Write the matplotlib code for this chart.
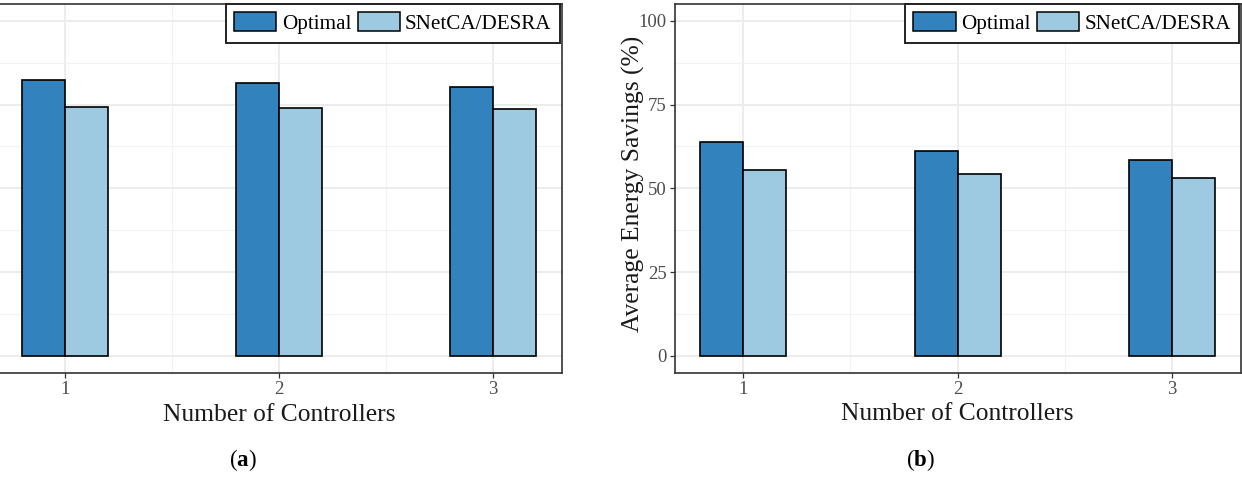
import matplotlib
matplotlib.use("Agg")
import matplotlib.pyplot as plt
import numpy as np
from matplotlib.ticker import FixedLocator
from matplotlib.patches import Patch

# ---- data ----
controllers = [1, 2, 3]
series_names = ["Optimal", "SNetCA/DESRA"]
panel_a_optimal = [82.3, 81.3, 80.2]
panel_a_snetca = [74.4, 74.0, 73.6]
panel_b_optimal = [63.8, 61.0, 58.5]
panel_b_snetca = [55.4, 54.3, 53.0]
y_ticks = [0, 25, 50, 75, 100]
x_label = "Number of Controllers"
y_label_b = "Average Energy Savings (%)"
captions = ["a", "b"]

colors = ["#3182BD", "#9ECAE1"]

plt.rcParams["font.family"] = ["Liberation Serif", "DejaVu Serif"]
plt.rcParams["mathtext.fontset"] = "custom"
plt.rcParams["mathtext.rm"] = "Liberation Serif"
plt.rcParams["mathtext.bf"] = "Liberation Serif:bold"

W, H = 1242, 483
fig = plt.figure(figsize=(W / 100, H / 100), dpi=100)


def fx(px):
    return px / W


def fy(py):
    return 1 - py / H


def make_panel(left_px, right_px, opt, sn, show_y):
    top_px, bot_px = 4.0, 372.7
    ax = fig.add_axes([fx(left_px), fy(bot_px), fx(right_px - left_px), (bot_px - top_px) / H])
    x = np.array(controllers, dtype=float)
    w = 0.2
    ax.bar(x - w / 2, opt, width=w, color=colors[0], edgecolor="black", linewidth=1.2, zorder=3)
    ax.bar(x + w / 2, sn, width=w, color=colors[1], edgecolor="black", linewidth=1.2, zorder=3)
    ax.set_xlim(0.68, 3.32)
    ax.set_ylim(-5, 105)
    ax.xaxis.set_major_locator(FixedLocator(controllers))
    ax.xaxis.set_minor_locator(FixedLocator([0.5, 1.5, 2.5, 3.5]))
    ax.yaxis.set_major_locator(FixedLocator(y_ticks))
    ax.yaxis.set_minor_locator(FixedLocator([12.5, 37.5, 62.5, 87.5]))
    ax.set_axisbelow(True)
    ax.grid(which="major", color="#EBEBEB", linewidth=1.3, zorder=0)
    ax.grid(which="minor", color="#F2F2F2", linewidth=0.8, zorder=0)
    ax.tick_params(which="minor", length=0)
    ax.tick_params(axis="x", which="major", length=3.5, width=0.9, color="#333333",
                   labelsize=13.5, labelcolor="#4D4D4D", pad=2.5)
    ax.tick_params(axis="y", which="major", length=3.5, width=0.9, color="#333333",
                   labelsize=13.5, labelcolor="#4D4D4D", pad=2.0, labelleft=show_y)
    for s in ax.spines.values():
        s.set_color("#333333")
        s.set_linewidth(1.2)
    handles = [Patch(facecolor=colors[i], edgecolor="black", linewidth=1.1, label=series_names[i])
               for i in range(2)]
    leg = ax.legend(handles=handles, loc="upper right", bbox_to_anchor=(0.997, 1.0),
                    borderaxespad=0.0, ncol=2, fontsize=15.2, handlelength=2.0,
                    handleheight=1.0, handletextpad=0.25, columnspacing=0.3,
                    borderpad=0.4, fancybox=False, framealpha=1.0)
    leg.get_frame().set_edgecolor("#222222")
    leg.get_frame().set_linewidth(1.4)
    leg.set_zorder(5)
    return ax


ax_a = make_panel(-3.7, 561.7, panel_a_optimal, panel_a_snetca, False)
ax_b = make_panel(674.6, 1240.8, panel_b_optimal, panel_b_snetca, True)

fig.text(fx(279.6), fy(420.7), x_label, ha="center", va="baseline", fontsize=18.4, color="#1A1A1A")
fig.text(fx(957.6), fy(419.5), x_label, ha="center", va="baseline", fontsize=18.4, color="#1A1A1A")
fig.text(fx(633), fy(184), y_label_b, ha="center", va="center", rotation=90, fontsize=18.4,
         color="#1A1A1A")

fig.text(fx(243), fy(460), r"($\mathbf{%s}$)" % captions[0], ha="center", va="center", fontsize=16.5)
fig.text(fx(920), fy(460), r"($\mathbf{%s}$)" % captions[1], ha="center", va="center", fontsize=16.5)

fig.savefig("out.png", dpi=100)
